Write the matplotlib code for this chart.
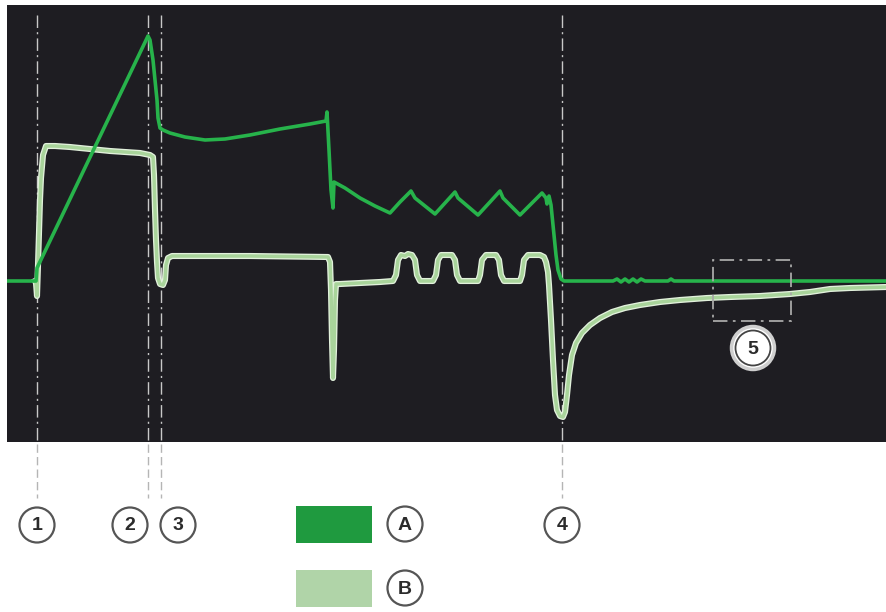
import matplotlib
matplotlib.use("Agg")
import matplotlib.pyplot as plt
import matplotlib.patheffects as pe
from matplotlib.patches import Circle, Rectangle

# Signal A (dark green) -- time in px, level in px from top of image
a_t = [8, 36, 37, 148, 150, 153, 155, 157, 158, 160, 163, 170, 185, 205, 225, 250, 280,
       310, 326, 327, 329, 331, 333, 334, 345, 360, 375, 390, 400, 411, 415, 435, 445,
       455, 458, 478, 490, 500, 503, 520, 532, 542, 546, 547, 549, 551, 554, 556, 558,
       561, 564, 613, 617, 621, 625, 629, 633, 637, 641, 645, 668, 671, 674, 887]
a_y = [281, 281, 268, 36, 40, 60, 80, 100, 118, 128, 130, 133, 137, 140, 139, 135, 129,
       124, 121, 112, 150, 190, 208, 182, 188, 198, 206, 213, 202, 191, 198, 214, 203,
       192, 198, 215, 202, 191, 198, 215, 203, 193, 198, 204, 196, 205, 235, 255, 270,
       279, 281, 281, 279, 282, 279, 282, 279, 282, 279, 281, 281, 279, 281, 281]

# Signal B (light green)
b_t = [35, 36, 37, 38, 40, 41, 43, 46, 55, 70, 90, 110, 125, 140, 150, 153, 154, 155,
       156, 157, 158, 160, 163, 165, 166, 168, 172, 250, 328, 330, 331, 332, 333, 334,
       335, 336, 340, 360, 380, 393, 396, 398, 401, 405, 408, 412, 415, 417, 420, 433,
       436, 438, 441, 452, 455, 457, 460, 478, 480, 482, 486, 496, 499, 501, 504, 520,
       522, 524, 528, 540, 544, 546, 548, 549, 551, 553, 555, 557, 560, 563, 565, 567,
       569, 572, 576, 582, 590, 600, 612, 625, 640, 660, 680, 707, 730, 760, 790, 810,
       830, 850, 887]
b_y = [281, 283, 296, 265, 200, 178, 155, 146, 146, 147, 149, 151, 152, 153, 155, 157,
       175, 210, 240, 262, 278, 284, 285, 280, 265, 258, 256, 256, 257, 262, 290, 340,
       378, 350, 300, 284, 284, 283, 282, 281, 275, 260, 255, 256, 254, 255, 260, 275,
       281, 281, 275, 260, 255, 255, 260, 275, 281, 281, 275, 260, 255, 255, 260, 275,
       281, 281, 275, 260, 255, 255, 257, 262, 272, 285, 320, 360, 395, 410, 416, 417,
       412, 395, 375, 355, 343, 333, 325, 318, 312, 308, 305, 302, 300, 298, 297, 296,
       294, 292, 289, 288, 287]

event_t = [37, 148, 161, 562]
event_labels = ["1", "2", "3", "4"]
label_x = [37, 130, 178, 562]
legend_labels = ["A", "B"]
legend_colors = ["#1f9a3f", "#b0d4a8"]

BASE = 281
W, H = 887, 612
bg = "#1e1d22"

fig = plt.figure(figsize=(W / 100, H / 100), dpi=100)
fig.patch.set_facecolor("white")

# main trace area
left, top, right, bottom = 7, 5, 887, 442
ax = fig.add_axes([left / W, 1 - bottom / H, (right - left) / W, (bottom - top) / H])
ax.set_facecolor(bg)
ax.set_xlim(left, right)
ax.set_ylim(BASE - bottom, BASE - top)
for s in ax.spines.values():
    s.set_visible(False)
ax.set_xticks([])
ax.set_yticks([])

for t in event_t:
    ax.plot([t, t], [BASE - 15, BASE - bottom], color="#c8c8c8", lw=1,
            linestyle=(0, (9, 3, 1.5, 3)), zorder=1)

ax.plot(b_t, [BASE - v for v in b_y], color="#a9d49b", lw=2.5, zorder=2,
        solid_joinstyle="round",
        path_effects=[pe.Stroke(linewidth=4.4, foreground="#e2f1dc"), pe.Normal()])
ax.plot(a_t, [BASE - v for v in a_y], color="#27b34b", lw=2.6, zorder=3,
        solid_joinstyle="round")

# zoom box 5
ax.add_patch(Rectangle((713, BASE - 321), 78, 61, fill=False, edgecolor="#a8a8a8",
                       lw=1.3, linestyle=(0, (8, 3, 1.5, 3)), zorder=4))

# overlay in pixel coordinates for the key / markers
ov = fig.add_axes([0, 0, 1, 1], facecolor="none")
ov.set_xlim(0, W)
ov.set_ylim(H, 0)
ov.axis("off")


def badge(x, y, txt, r=17.5):
    ov.add_patch(Circle((x, y), r, facecolor="white", edgecolor="#555555", lw=1.6))
    ov.text(x, y + 1, txt, ha="center", va="center", fontsize=14, fontweight="bold",
            color="#2b2b2b", family="Liberation Sans")


for t, lx, lab in zip(event_t, label_x, event_labels):
    ov.plot([t, t], [444, 498], color="#b5b5b5", lw=1, linestyle=(0, (6, 3)))
    badge(lx, 525, lab)

for i, (lab, col) in enumerate(zip(legend_labels, legend_colors)):
    y0 = 506 + i * 64
    ov.add_patch(Rectangle((296, y0), 76, 37, facecolor=col, edgecolor="none"))
    badge(405, y0 + 18, lab)

# badge 5 with double ring
ov.add_patch(Circle((753, 348), 21.5, facecolor="white", edgecolor="#cfcfcf", lw=2.5))
ov.add_patch(Circle((753, 348), 17.5, facecolor="white", edgecolor="#444444", lw=1.3))
ov.text(753, 349, "5", ha="center", va="center", fontsize=14, fontweight="bold",
        color="#2b2b2b", family="Liberation Sans")

fig.savefig("out.png", dpi=100, facecolor="white")
